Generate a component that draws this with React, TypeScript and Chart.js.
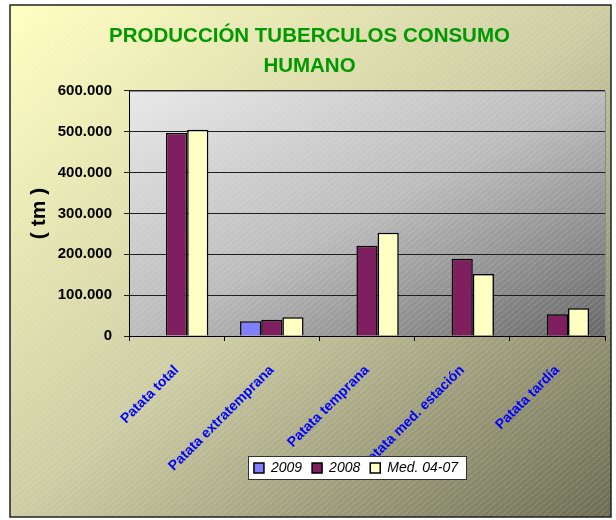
import React, { useEffect, useRef } from 'react';
import { Chart, registerables } from 'chart.js';

Chart.register(...registerables);

const categories = ['Patata total', 'Patata extratemprana', 'Patata temprana', 'Patata med. estación', 'Patata tardía'];
const series2009 = [null, 36000, null, null, null];
const series2008 = [497000, 40000, 221000, 189000, 53000];
const seriesMed = [505000, 46000, 253000, 152000, 68000];
const seriesLabels = ['2009', '2008', 'Med. 04-07'];
const seriesColors = ['#8080ff', '#7f1f5f', '#ffffc4'];
const titleLines = ['PRODUCCIÓN TUBERCULOS CONSUMO', 'HUMANO'];
const yTitle = '( tm )';
const yMin = 0;
const yMax = 600000;
const yStep = 100000;

const FAMILY = '"Liberation Sans", Arial, sans-serif';

function fmtEs(v: number): string {
  return String(Math.round(v)).replace(/\B(?=(\d{3})+(?!\d))/g, '.');
}

function diagGradient(ctx: CanvasRenderingContext2D, x: number, y: number, w: number, h: number, stops: [number, string][]) {
  const k = 2 / (1 / (w * w) + 1 / (h * h));
  const g = ctx.createLinearGradient(x, y, x + k / w, y + k / h);
  stops.forEach(([o, c]) => g.addColorStop(o, c));
  return g;
}

const backgroundPlugin = {
  id: 'bgPlugin',
  beforeDraw(chart: any) {
    const { ctx, chartArea: ca, width, height } = chart;
    const ox = 10, oy = 5, ow = 601, oh = 512;
    ctx.save();
    ctx.fillStyle = '#ffffff';
    ctx.fillRect(0, 0, width, height);
    ctx.fillStyle = diagGradient(ctx, ox, oy, ow, oh, [[0, '#ffffc2'], [0.5, '#cdcda4'], [1, '#6d6d54']]);
    ctx.fillRect(ox, oy, ow, oh);
    const pw = ca.right - ca.left, ph = ca.bottom - ca.top;
    ctx.fillStyle = diagGradient(ctx, ca.left, ca.top, pw, ph, [[0, '#e8e8e8'], [0.5, '#bcbcbc'], [1, '#686868']]);
    ctx.fillRect(ca.left, ca.top, pw, ph);
    ctx.beginPath();
    ctx.rect(ox, oy, ow, oh);
    ctx.clip();
    ctx.strokeStyle = 'rgba(255,255,255,0.25)';
    ctx.lineWidth = 1;
    ctx.setLineDash([2, 1]);
    ctx.beginPath();
    const slope = 0.84;
    const run = oh / slope;
    for (let s = ox - run; s < ox + ow; s += 7) {
      ctx.moveTo(s, oy + oh);
      ctx.lineTo(s + run, oy);
    }
    ctx.stroke();
    ctx.restore();
    ctx.save();
    ctx.strokeStyle = '#8a8a8a';
    ctx.lineWidth = 1;
    ctx.strokeRect(ca.left + 0.5, ca.top + 0.5, pw, ph);
    ctx.strokeStyle = '#222222';
    ctx.lineWidth = 1.5;
    ctx.strokeRect(ox, oy, ow, oh);
    ctx.restore();
  },
};

const legendBoxPlugin = {
  id: 'legendBox',
  afterLayout(chart: any) {
    const lg = chart.legend;
    if (lg) {
      lg.left -= 11;
      lg.right -= 11;
      lg.top -= 34;
      lg.bottom -= 34;
    }
  },
  afterDraw(chart: any) {
    const lg = chart.legend;
    if (!lg || !lg.legendHitBoxes || !lg.legendHitBoxes.length) return;
    const hb = lg.legendHitBoxes;
    const l = Math.min(...hb.map((h: any) => h.left)) - 6;
    const r = Math.max(...hb.map((h: any) => h.left + h.width)) + 8;
    const t = Math.min(...hb.map((h: any) => h.top)) - 5;
    const b = Math.max(...hb.map((h: any) => h.top + h.height)) + 4;
    const { ctx } = chart;
    ctx.save();
    ctx.fillStyle = '#ffffff';
    ctx.fillRect(l, t, r - l, b - t);
    ctx.strokeStyle = '#333333';
    ctx.lineWidth = 1;
    ctx.strokeRect(Math.round(l) + 0.5, Math.round(t) + 0.5, Math.round(r - l), Math.round(b - t));
    ctx.restore();
    lg.draw();
  },
};

export default function App() {
  const ref = useRef<HTMLCanvasElement>(null);

  useEffect(() => {
    if (!ref.current) return;
    const seriesData = [series2009, series2008, seriesMed];
    const chart = new Chart(ref.current, {
      type: 'bar',
      data: {
        labels: categories,
        datasets: seriesLabels.map((label, i) => ({
          label,
          data: seriesData[i] as any,
          backgroundColor: seriesColors[i],
          borderColor: '#000000',
          borderWidth: 1.5,
          categoryPercentage: 0.667,
          barPercentage: 1,
        })),
      },
      options: {
        responsive: false,
        animation: false,
        layout: { padding: { top: 5, left: 14, right: 11, bottom: 1 } },
        plugins: {
          title: {
            display: true,
            text: titleLines,
            color: '#009900',
            font: { family: FAMILY, size: 20.5, weight: 'bold', lineHeight: 1.463 },
            padding: { top: 16, bottom: 10 },
          },
          legend: {
            position: 'bottom',
            fullSize: false,
            labels: {
              boxWidth: 10,
              boxHeight: 10,
              color: '#000000',
              padding: 10,
              font: { family: FAMILY, size: 14, style: 'italic' },
            },
          },
          tooltip: { enabled: false },
        },
        scales: {
          x: {
            grid: { display: true, drawOnChartArea: false, drawTicks: true, tickLength: 5, color: '#000000', offset: true },
            border: { display: true, color: '#000000', width: 1 },
            ticks: {
              color: '#0000ff',
              autoSkip: false,
              maxRotation: 45,
              minRotation: 45,
              padding: 21,
              font: { family: FAMILY, size: 14, weight: 'bold' },
            },
            afterFit: (s: any) => { s.height = 149; },
          },
          y: {
            min: yMin,
            max: yMax,
            ticks: {
              stepSize: yStep,
              color: '#000000',
              padding: 12,
              font: { family: FAMILY, size: 15, weight: 'bold' },
              callback: (v: any) => fmtEs(Number(v)),
            },
            grid: { color: '#1e1e1e', tickLength: 5, drawTicks: true },
            border: { display: true, color: '#000000', width: 1 },
            title: {
              display: true,
              text: yTitle,
              color: '#000000',
              font: { family: FAMILY, size: 21, weight: 'bold' },
              padding: { top: 13, bottom: 0 },
            },
            afterFit: (s: any) => { s.width = 115; },
          },
        },
      },
      plugins: [backgroundPlugin, legendBoxPlugin],
    });
    return () => chart.destroy();
  }, []);

  return (
    <div style={{ position: 'fixed', left: 0, top: 0, width: 616, height: 520 }}>
      <canvas ref={ref} width={616} height={520} style={{ display: 'block' }} />
    </div>
  );
}
